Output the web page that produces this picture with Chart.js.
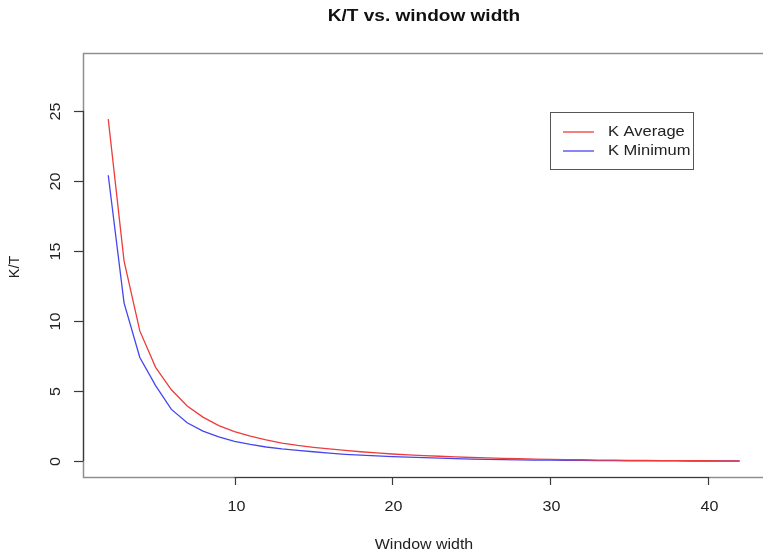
<!DOCTYPE html>
<html>
<head>
<meta charset="utf-8">
<script src="https://cdn.jsdelivr.net/npm/chart.js@4"></script>
<style>
  html, body { margin: 0; padding: 0; background: #fff; }
  #wrap { width: 763px; height: 553px; }
</style>
</head>
<body>
<div id="wrap"><canvas id="kt" width="763" height="553"></canvas></div>
<script>
// window widths and K/T values per width
const windowWidths = [2, 3, 4, 5, 6, 7, 8, 9, 10, 11, 12, 13, 14, 15, 16, 17, 18, 19, 20, 21, 22,
  23, 24, 25, 26, 27, 28, 29, 30, 31, 32, 33, 34, 35, 36, 37, 38, 39, 40, 41, 42];
const kAverage = [24.4, 14.3, 9.3, 6.7, 5.1, 3.95, 3.15, 2.55, 2.12, 1.8, 1.52, 1.3, 1.13, 1.0,
  0.88, 0.78, 0.68, 0.6, 0.52, 0.46, 0.41, 0.36, 0.31, 0.27, 0.24, 0.21, 0.18, 0.16, 0.14,
  0.12, 0.11, 0.09, 0.08, 0.07, 0.06, 0.05, 0.05, 0.04, 0.04, 0.03, 0.03];
const kMinimum = [20.4, 11.3, 7.4, 5.4, 3.7, 2.75, 2.15, 1.75, 1.42, 1.2, 1.02, 0.88, 0.78, 0.68,
  0.58, 0.5, 0.44, 0.38, 0.34, 0.3, 0.26, 0.22, 0.19, 0.16, 0.14, 0.12, 0.1, 0.09, 0.08,
  0.07, 0.06, 0.05, 0.05, 0.04, 0.04, 0.03, 0.03, 0.02, 0.02, 0.02, 0.02];
const xTicks = [10, 20, 30, 40];
const yTicks = [0, 5, 10, 15, 20, 25];
const seriesNames = ['K Average', 'K Minimum'];

const FONT = '"Liberation Sans", Arial, sans-serif';

// text drawn slightly wide along its own direction, optionally rotated
function drawText(ctx, text, x, y, font, stretch, angle, align) {
  ctx.save();
  ctx.translate(x, y);
  if (angle) ctx.rotate(angle);
  ctx.scale(stretch, 1);
  ctx.font = font;
  ctx.textAlign = align || 'center';
  ctx.textBaseline = 'middle';
  ctx.fillText(text, 0, 0);
  ctx.restore();
}

// R-style frame, axes, titles and legend
const basePlot = {
  id: 'basePlot',
  afterDraw(chart) {
    const ctx = chart.ctx;
    const area = chart.chartArea;
    const xs = chart.scales.x, ys = chart.scales.y;
    ctx.save();

    // frame
    ctx.strokeStyle = '#8f8f8f';
    ctx.lineWidth = 1.5;
    ctx.beginPath();
    ctx.moveTo(area.right + 2, area.top + 0.5);
    ctx.lineTo(area.left + 0.5, area.top + 0.5);
    ctx.lineTo(area.left + 0.5, area.bottom + 0.5);
    ctx.lineTo(area.right + 2, area.bottom + 0.5);
    ctx.stroke();

    // axes
    ctx.strokeStyle = '#3a3a3a';
    ctx.lineWidth = 1.2;
    ctx.fillStyle = '#222';
    const tickFont = '14px ' + FONT;

    const xa = xs.getPixelForValue(xTicks[0]), xb = xs.getPixelForValue(xTicks[xTicks.length - 1]);
    ctx.beginPath();
    ctx.moveTo(xa, area.bottom + 0.5);
    ctx.lineTo(xb, area.bottom + 0.5);
    ctx.stroke();
    xTicks.forEach(v => {
      const px = Math.round(xs.getPixelForValue(v)) + 0.5;
      ctx.beginPath();
      ctx.moveTo(px, area.bottom);
      ctx.lineTo(px, area.bottom + 8);
      ctx.stroke();
      drawText(ctx, String(v), px + 1, area.bottom + 30, tickFont, 1.15);
    });

    const ya = ys.getPixelForValue(yTicks[0]), yb = ys.getPixelForValue(yTicks[yTicks.length - 1]);
    ctx.beginPath();
    ctx.moveTo(area.left + 0.5, ya);
    ctx.lineTo(area.left + 0.5, yb);
    ctx.stroke();
    yTicks.forEach(v => {
      const py = Math.round(ys.getPixelForValue(v)) + 0.5;
      ctx.beginPath();
      ctx.moveTo(area.left, py);
      ctx.lineTo(area.left - 9, py);
      ctx.stroke();
      drawText(ctx, String(v), area.left - 27, py, tickFont, 1.15, -Math.PI / 2);
    });

    // titles
    ctx.fillStyle = '#111';
    drawText(ctx, 'K/T vs. window width', 424, 16, 'bold 17px ' + FONT, 1.12);
    ctx.fillStyle = '#222';
    drawText(ctx, 'Window width', 424, 545, '14.5px ' + FONT, 1.1);
    drawText(ctx, 'K/T', 15, 267, '14.5px ' + FONT, 1.0, -Math.PI / 2);

    // legend
    ctx.strokeStyle = '#555';
    ctx.lineWidth = 1;
    ctx.strokeRect(550.5, 112.5, 143, 57);
    chart.data.datasets.forEach((ds, i) => {
      const y = 132 + i * 19;
      ctx.strokeStyle = ds.borderColor;
      ctx.lineWidth = 1.3;
      ctx.beginPath();
      ctx.moveTo(563, y);
      ctx.lineTo(594, y);
      ctx.stroke();
      ctx.fillStyle = '#222';
      drawText(ctx, ds.label, 608, y, '15px ' + FONT, 1.1, 0, 'left');
    });

    ctx.restore();
  }
};

new Chart(document.getElementById('kt'), {
  type: 'line',
  data: {
    datasets: [
      {
        label: seriesNames[0],
        data: windowWidths.map((w, i) => ({ x: w, y: kAverage[i] })),
        borderColor: 'rgb(238, 60, 60)',
        borderWidth: 1.3,
        pointRadius: 0,
        tension: 0
      },
      {
        label: seriesNames[1],
        data: windowWidths.map((w, i) => ({ x: w, y: kMinimum[i] })),
        borderColor: 'rgb(70, 70, 240)',
        borderWidth: 1.3,
        pointRadius: 0,
        tension: 0
      }
    ]
  },
  options: {
    responsive: false,
    animation: false,
    layout: { padding: { left: 83, top: 53, right: 0, bottom: 76 } },
    plugins: { legend: { display: false }, tooltip: { enabled: false } },
    scales: {
      x: { type: 'linear', min: 0.4, max: 43.48, display: false },
      y: { type: 'linear', min: -1.12, max: 29.12, display: false }
    }
  },
  plugins: [basePlot]
});
</script>
</body>
</html>
